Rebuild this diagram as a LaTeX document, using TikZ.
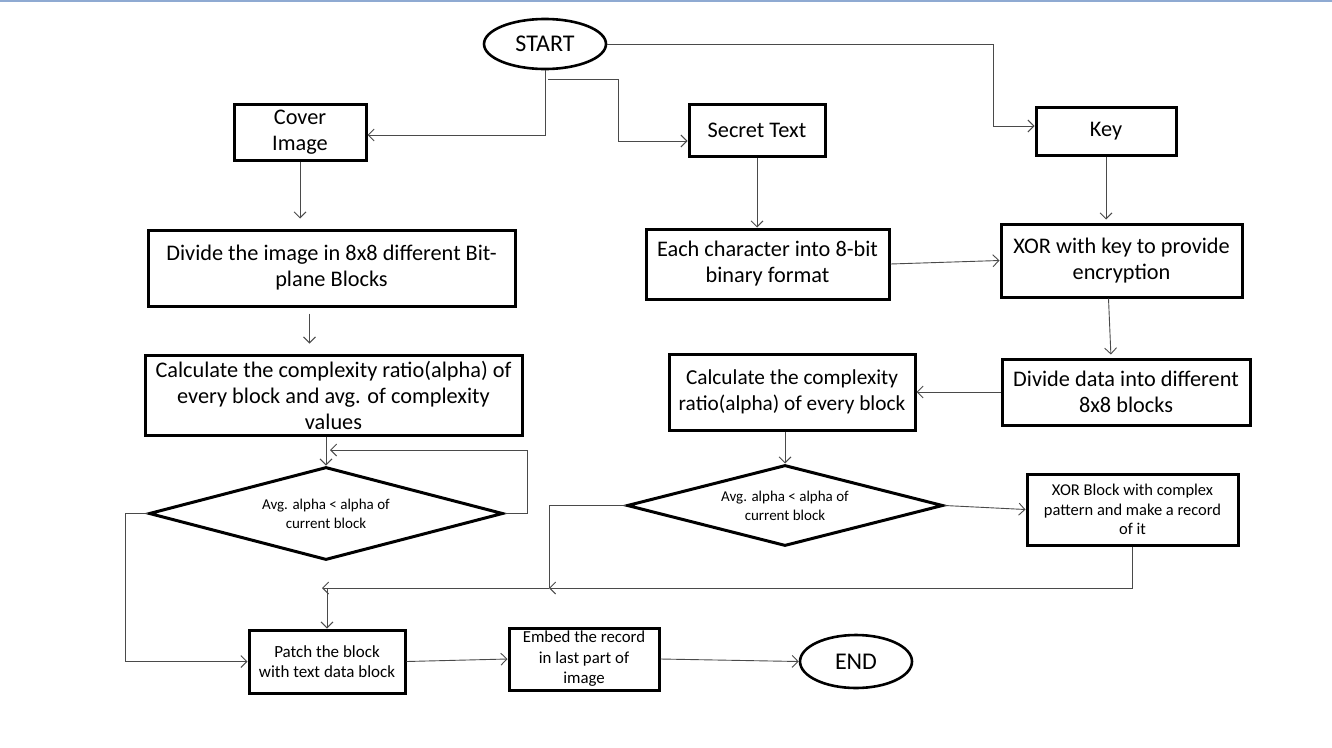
\documentclass[tikz,border=0pt]{standalone}
\usepackage{fontspec}
\setmainfont{Carlito}
\usepackage{tikz}
\usetikzlibrary{arrows.meta,shapes.geometric}
\definecolor{topline}{HTML}{8FAAD2}
\definecolor{wire}{HTML}{4A4A4A}

\begin{document}
\begin{tikzpicture}[x=1pt,y=-1pt]
	\tikzstyle{box} = [draw=black, line width=3pt, align=center, inner sep=0pt, font=\fontsize{22.3}{26}\selectfont]
	\tikzstyle{term} = [ellipse, draw=black, line width=2.6pt, inner sep=0pt, font=\fontsize{24}{28}\selectfont]
	\tikzstyle{test} = [diamond, draw=black, line width=3pt, aspect=3.5, inner sep=0pt, align=center, font=\fontsize{15}{19}\selectfont]
	\tikzstyle{arr} = [draw=wire, line width=0.9pt, -{Straight Barb[length=6pt,width=12pt]}]
	\tikzstyle{wireline} = [draw=wire, line width=0.9pt]
	\useasboundingbox (0,0) rectangle (1332,747);
	\draw [topline, line width=2pt] (0,1) -- (1332,1);
		\node[term, minimum width=122pt, minimum height=50pt] (start) at (545,44) {START};
		\node[box, minimum width=132pt, minimum height=56pt] (cover) at (300,132) {Cover\\Image};
		\node[box, minimum width=136pt, minimum height=52pt] (secret) at (757,130) {Secret Text};
		\node[box, minimum width=140pt, minimum height=48pt] (key) at (1106,131) {Key};
		\node[box, minimum width=367pt, minimum height=76pt] (divimg) at (331.5,268) {Divide the image in 8x8 different Bit-\\plane Blocks};
		\node[box, minimum width=243pt, minimum height=70pt] (eachchar) at (767.5,264) {Each character into 8-bit\\binary format};
		\node[box, minimum width=241pt, minimum height=73pt] (xorkey) at (1121.5,260.5) {XOR with key to provide\\encryption};
		\node[box, minimum width=377pt, minimum height=80pt] (calcl) at (333.5,395) {Calculate the complexity ratio(alpha) of\\every block and avg. of complexity\\values};
		\node[box, minimum width=246pt, minimum height=76pt, font=\fontsize{21.3}{26}\selectfont] (calcr) at (792,392) {Calculate the complexity\\ratio(alpha) of every block};
		\node[box, minimum width=248pt, minimum height=66pt] (divdata) at (1126,392) {Divide data into different\\8x8 blocks};
		\node[test, minimum width=354pt, minimum height=93pt] (dl) at (326,513.5) {Avg. alpha < alpha of\\current block};
		\node[test, minimum width=316pt, minimum height=81pt] (dr) at (785,505.5) {Avg. alpha < alpha of\\current block};
		\node[box, minimum width=211pt, minimum height=71pt, font=\fontsize{16.5}{19.5}\selectfont] (xorblk) at (1132.5,509.5) {XOR Block with complex\\pattern and make a record\\of it};
		\node[box, minimum width=156pt, minimum height=63pt, font=\fontsize{17}{20}\selectfont] (patch) at (327,661.5) {Patch the block\\with text data block};
		\node[box, minimum width=150pt, minimum height=62pt, font=\fontsize{16.8}{20.5}\selectfont] (embed) at (584,659) {Embed the record\\in last part of\\image};
		\node[term, minimum width=112pt, minimum height=53pt] (endn) at (856,661.5) {END};
		\coordinate (s1) at (548,79);
		\coordinate (s2) at (618,79);
		\coordinate (k1) at (993,44);
		\coordinate (l1) at (527,513.5);
		\coordinate (l2) at (330,450);
		\coordinate (l3) at (125,513.5);
		\coordinate (j1) at (549,588);
		\coordinate (j2) at (322,588);
	\draw[arr] (start.south) |- ([yshift=-3pt]cover.east);
	\draw[arr] (s1) -- (s2) |- ([yshift=-11pt]secret.west);
	\draw[arr] (start.east) -- (k1) |- ([yshift=5pt]key.west);
	\draw[arr, shorten >=10pt] (cover.south) -- (cover.south |- divimg.north);
	\draw[arr, shorten <=6pt, shorten >=10pt] ([xshift=-22pt]divimg.south) -- ([xshift=-24pt]calcl.north);
	\draw[arr] (calcl.south -| dl.north) -- (dl.north);
	\draw[arr] (dl.east) -- (l1) |- (l2);
	\draw[arr] (dl.west) -- (l3) |- (patch.west);
	\draw[arr] (secret.south) -- (secret.south |- eachchar.north);
	\draw[arr] (eachchar.east) -- (xorkey.west);
	\draw[arr, shorten >=3pt] (key.south) -- (key.south |- xorkey.north);
	\draw[arr, shorten >=3pt] ([xshift=-13pt]xorkey.south) -- ([xshift=-15pt]divdata.north);
	\draw[arr] (divdata.west) -- (divdata.west -| calcr.east);
	\draw[arr] (calcr.south -| dr.north) -- (dr.north);
	\draw[arr] (dr.east) -- (xorblk.west);
	\draw[wireline] (dr.west) -| (j1);
	\draw[arr] (xorblk.south) |- (j1);
	\draw[arr] (j1) -- (j2);
	\draw[arr] (j2 -| patch.north) -- (patch.north);
	\draw[arr] (patch.east) -- (embed.west);
	\draw[arr] (embed.east) -- (endn.west);
	\end{tikzpicture}
\end{document}
